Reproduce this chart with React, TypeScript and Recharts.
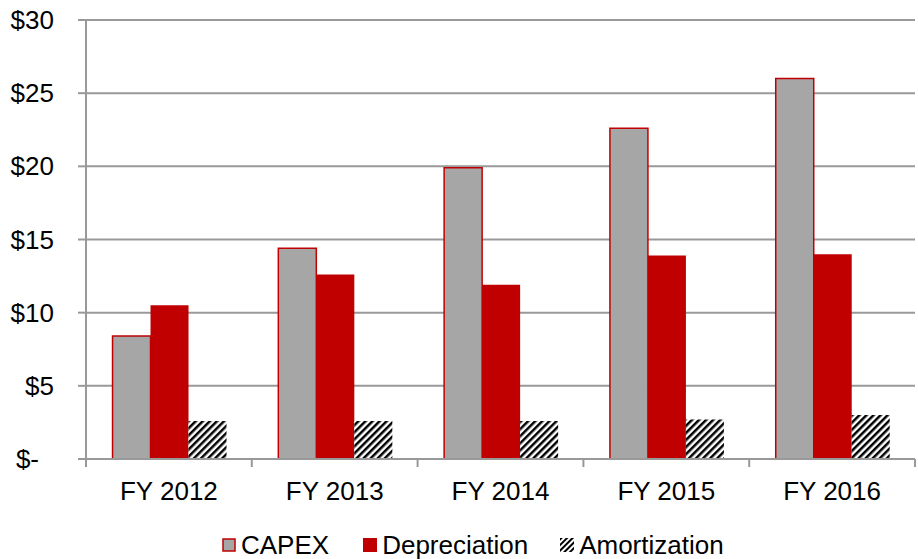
import { Bar, BarChart, CartesianGrid, Legend, XAxis, YAxis } from "recharts";

const years = ["FY 2012", "FY 2013", "FY 2014", "FY 2015", "FY 2016"];
const capex = [8.4, 14.4, 19.9, 22.6, 26.0];
const depreciation = [10.5, 12.6, 11.9, 13.9, 14.0];
const amortization = [2.6, 2.6, 2.6, 2.7, 3.0];
const yTicks = [0, 5, 10, 15, 20, 25, 30];

const data = years.map((year, i) => ({
  year,
  capex: capex[i],
  depreciation: depreciation[i],
  amortization: amortization[i],
}));

const font = "'Liberation Sans', Arial, sans-serif";
const fontSize = 26;
const red = "#c00000";
const grey = "#a6a6a6";
const axisGrey = "#999999";

const plot = { left: 86, right: 915, top: 20, bottom: 459 };
const band = (plot.right - plot.left) / years.length;

function YTick(props: any) {
  const { x, y, payload } = props;
  const zero = payload.value === 0;
  return (
    <text
      x={zero ? x - 15 : x}
      y={y}
      dy="0.35em"
      textAnchor="end"
      fill="#000"
      fontSize={fontSize}
      fontFamily={font}
    >
      {zero ? "$-" : `$${payload.value}`}
    </text>
  );
}

function XTick(props: any) {
  const { x, payload, index } = props;
  const last = index === years.length - 1;
  return (
    <g>
      <line
        x1={x - band / 2}
        x2={x - band / 2}
        y1={plot.bottom}
        y2={plot.bottom + 8}
        stroke={axisGrey}
        strokeWidth={2}
      />
      {last && (
        <line
          x1={x + band / 2}
          x2={x + band / 2}
          y1={plot.bottom}
          y2={plot.bottom + 8}
          stroke={axisGrey}
          strokeWidth={2}
        />
      )}
      <text
        x={x}
        y={plot.bottom + 41}
        textAnchor="middle"
        fill="#000"
        fontSize={fontSize}
        fontFamily={font}
      >
        {payload.value}
      </text>
    </g>
  );
}

function Swatch({ kind }: { kind: string }) {
  return (
    <svg width={14} height={14} style={{ display: "block" }}>
      <defs>
        <pattern
          id="hatchSmall"
          width={4}
          height={4}
          patternUnits="userSpaceOnUse"
          patternTransform="rotate(45)"
        >
          <rect width={4} height={4} fill="#fff" />
          <rect width={2} height={4} fill="#000" />
        </pattern>
      </defs>
      {kind === "capex" && (
        <rect x={1} y={1} width={12} height={12} fill={grey} stroke={red} strokeWidth={1.5} />
      )}
      {kind === "dep" && <rect x={0} y={0} width={14} height={14} fill={red} />}
      {kind === "amort" && <rect x={0} y={0} width={14} height={14} fill="url(#hatchSmall)" />}
    </svg>
  );
}

function LegendContent() {
  const items = [
    { kind: "capex", label: "CAPEX", gap: 0 },
    { kind: "dep", label: "Depreciation", gap: 34 },
    { kind: "amort", label: "Amortization", gap: 32 },
  ];
  return (
    <div
      style={{
        display: "flex",
        alignItems: "center",
        paddingLeft: 222,
        paddingTop: 14,
        fontFamily: font,
        fontSize,
        color: "#000",
        lineHeight: "24px",
      }}
    >
      {items.map((it) => (
        <div
          key={it.kind}
          style={{ display: "flex", alignItems: "center", marginLeft: it.gap }}
        >
          <Swatch kind={it.kind} />
          <span style={{ marginLeft: 5 }}>{it.label}</span>
        </div>
      ))}
    </div>
  );
}

export default function App() {
  return (
    <div style={{ width: 918, height: 559, background: "#fff" }}>
      <style>{`body{margin:0}`}</style>
      <BarChart
        width={918}
        height={559}
        data={data}
        margin={{ top: plot.top, right: 918 - plot.right, bottom: 0, left: 0 }}
        barCategoryGap="16%"
        barGap={0}
      >
        <defs>
          <pattern
            id="hatch"
            width={5}
            height={5}
            patternUnits="userSpaceOnUse"
            patternTransform="rotate(45)"
          >
            <rect width={5} height={5} fill="#fff" />
            <rect width={2.5} height={5} fill="#000" />
          </pattern>
        </defs>
        <CartesianGrid vertical={false} stroke={axisGrey} strokeWidth={2} />
        <XAxis
          dataKey="year"
          height={60}
          axisLine={{ stroke: axisGrey, strokeWidth: 2 }}
          tickLine={false}
          tick={<XTick />}
          interval={0}
        />
        <YAxis
          width={plot.left}
          domain={[0, 30]}
          ticks={yTicks}
          interval={0}
          tickSize={8}
          tickMargin={24}
          axisLine={{ stroke: axisGrey, strokeWidth: 2 }}
          tickLine={{ stroke: axisGrey, strokeWidth: 2 }}
          tick={<YTick />}
        />
        <Legend verticalAlign="bottom" height={40} content={<LegendContent />} />
        <Bar
          dataKey="capex"
          fill={grey}
          stroke={red}
          strokeWidth={1.5}
          isAnimationActive={false}
        />
        <Bar dataKey="depreciation" fill={red} isAnimationActive={false} />
        <Bar dataKey="amortization" fill="url(#hatch)" isAnimationActive={false} />
      </BarChart>
    </div>
  );
}
